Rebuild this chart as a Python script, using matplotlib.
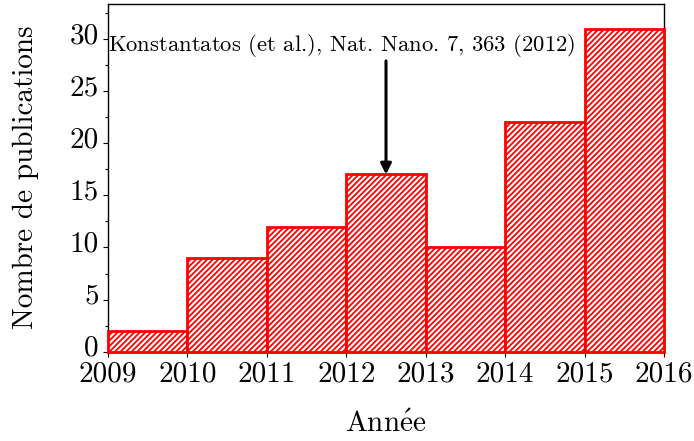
import matplotlib
matplotlib.use("Agg")
import matplotlib.pyplot as plt
import matplotlib.transforms as mtransforms
import numpy as np

# Publications per year
years = [2009, 2010, 2011, 2012, 2013, 2014, 2015]
counts = [2, 9, 12, 17, 10, 22, 31]
xticks = [2009, 2010, 2011, 2012, 2013, 2014, 2015, 2016]
yticks = [0, 5, 10, 15, 20, 25, 30]
note = r"Konstantatos $\mathit{(}$et al.), Nat. Nano. 7, 363 (2012)"
note_year = 2012.5

plt.rcParams['font.family'] = ['cmr10', 'DejaVu Serif']
plt.rcParams['mathtext.fontset'] = 'cm'
plt.rcParams['axes.formatter.use_mathtext'] = True
plt.rcParams['hatch.color'] = 'red'
plt.rcParams['hatch.linewidth'] = 1.3

fig = plt.figure(figsize=(6.94, 4.41), dpi=100)
ax = fig.add_axes([0.1556, 0.2025, 0.8012, 0.7895])

ax.bar(years, counts, width=1.0, align='edge', color='white',
       edgecolor='red', linewidth=2.0, hatch='//////', zorder=3, clip_on=False)

ax.set_xlim(2009, 2016)
ax.set_ylim(0, 33.4)
ax.set_xticks(xticks)
ax.set_xticklabels([str(t) for t in xticks])
ax.set_yticks(yticks)
ax.set_yticklabels([str(t) for t in yticks])
ax.set_yticks(np.arange(2.5, 33, 5), minor=True)

ax.tick_params(axis='both', which='major', labelsize=21, direction='out',
               length=3.5, width=0.8, pad=3)
ax.tick_params(axis='y', which='minor', direction='out', length=2.5, width=0.8)
ax.tick_params(top=False, right=False)
for s in ax.spines.values():
    s.set_linewidth(1.0)

# y tick labels sit with their baseline near the tick
shift = mtransforms.ScaledTranslation(0, 0.06, fig.dpi_scale_trans)
for lab in ax.get_yticklabels():
    lab.set_transform(lab.get_transform() + shift)

ax.set_xlabel(r"Ann$\acute{\mathrm{e}}$e", fontsize=21, labelpad=17)
ax.set_ylabel("Nombre de publications", fontsize=21, labelpad=22)

ax.annotate("", xy=(note_year, counts[3]), xytext=(note_year, 27.9),
            arrowprops=dict(arrowstyle='-|>', color='black', lw=2.2,
                            mutation_scale=16, shrinkA=0, shrinkB=0),
            zorder=5)
ax.text(2011.94, 29.4, note, fontsize=16.3, ha='center', va='center', zorder=5)

fig.savefig("out.png", dpi=100)
